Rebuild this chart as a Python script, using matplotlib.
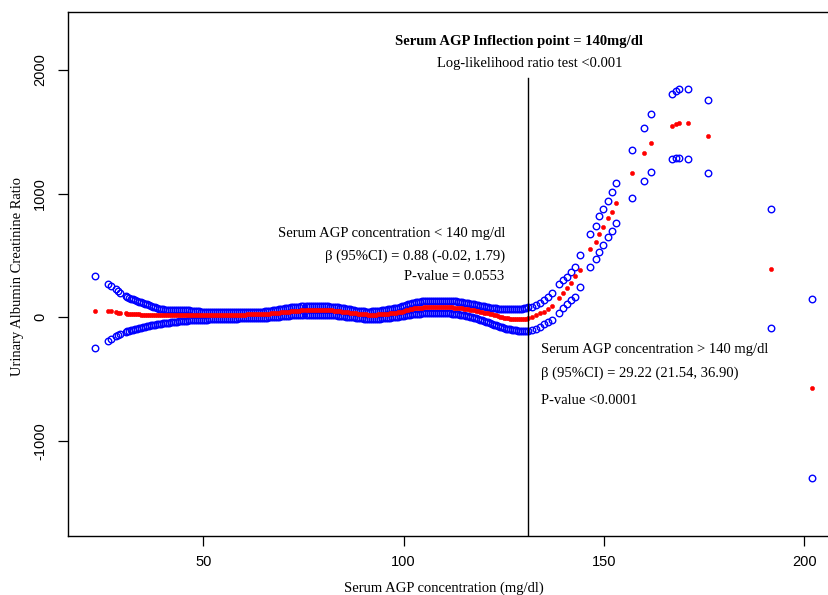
import matplotlib
matplotlib.use("Agg")
import matplotlib.pyplot as plt
import numpy as np

plt.rcParams["axes.unicode_minus"] = False

# serum AGP values (mg/dl) where the smoothed fit was evaluated
agp = [23.0, 26.1, 27.0, 28.2, 28.7, 29.2, 30.8,
       31.0, 31.5, 32.0, 32.5, 33.0, 33.5, 34.0, 34.5, 35.0, 35.5, 36.0, 36.5, 37.0, 37.5, 38.0, 38.5, 39.0, 39.5, 40.0, 40.5,
       41.0, 41.5, 42.0, 42.5, 43.0, 43.5, 44.0, 44.5, 45.0, 45.5, 46.0, 46.5, 47.0, 47.5, 48.0, 48.5, 49.0, 49.5, 50.0, 50.5,
       51.0, 51.5, 52.0, 52.5, 53.0, 53.5, 54.0, 54.5, 55.0, 55.5, 56.0, 56.5, 57.0, 57.5, 58.0, 58.5, 59.0, 59.5, 60.0, 60.5,
       61.0, 61.5, 62.0, 62.5, 63.0, 63.5, 64.0, 64.5, 65.0, 65.5, 66.0, 66.5, 67.0, 67.5, 68.0, 68.5, 69.0, 69.5, 70.0, 70.5,
       71.0, 71.5, 72.0, 72.5, 73.0, 73.5, 74.0, 74.5, 75.0, 75.5, 76.0, 76.5, 77.0, 77.5, 78.0, 78.5, 79.0, 79.5, 80.0, 80.5,
       81.0, 81.5, 82.0, 82.5, 83.0, 83.5, 84.0, 84.5, 85.0, 85.5, 86.0, 86.5, 87.0, 87.5, 88.0, 88.5, 89.0, 89.5, 90.0, 90.5,
       91.0, 91.5, 92.0, 92.5, 93.0, 93.5, 94.0, 94.5, 95.0, 95.5, 96.0, 96.5, 97.0, 97.5, 98.0, 98.5, 99.0, 99.5, 100.0, 100.5,
       101.0, 101.5, 102.0, 102.5, 103.0, 103.5, 104.0, 104.5, 105.0, 105.5, 106.0, 106.5, 107.0, 107.5, 108.0, 108.5, 109.0, 109.5, 110.0, 110.5,
       111.0, 111.5, 112.0, 112.5, 113.0, 113.5, 114.0, 114.5, 115.0, 115.5, 116.0, 116.5, 117.0, 117.5, 118.0, 118.5, 119.0, 119.5, 120.0, 120.5,
       121.0, 121.5, 122.0, 122.5, 123.0, 123.5, 124.0, 124.5, 125.0, 125.5, 126.0, 126.5, 127.0, 127.5, 128.0, 128.5, 129.0, 129.5, 130.0, 130.5,
       131.0,
       132.0, 133.0, 134.0, 135.0, 136.0, 137.0, 138.7, 139.7, 140.8, 141.8, 142.7, 143.9, 146.6, 147.9, 148.8, 149.7,
       150.9, 151.9, 153.0, 156.9, 159.9, 161.7, 166.9, 167.9, 168.8, 171.0, 175.9, 191.7, 201.8]

upper = [336, 269, 253, 226, 212, 198, 172,
         165, 157, 150, 144, 138, 132, 127, 121, 115, 110, 104, 98, 92, 86, 80, 75, 70, 67, 64, 62,
         61, 60, 60, 59, 59, 58, 58, 57, 57, 56, 56, 55, 54, 52, 50, 48, 47, 46, 46, 45,
         45, 44, 44, 44, 43, 43, 43, 42, 42, 42, 42, 41, 41, 41, 40, 40, 40, 40, 40, 40,
         40, 40, 40, 41, 41, 42, 43, 44, 45, 47, 48, 51, 53, 56, 58, 62, 65, 68, 70, 73,
         75, 78, 80, 82, 84, 85, 86, 87, 87, 88, 88, 88, 88, 88, 88, 88, 88, 88, 88, 87,
         87, 86, 86, 84, 82, 80, 77, 75, 72, 70, 67, 63, 60, 57, 54, 52, 50, 48, 47, 46,
         46, 46, 47, 48, 50, 52, 54, 56, 58, 60, 63, 65, 68, 71, 74, 78, 82, 87, 92, 99,
         105, 110, 115, 119, 122, 125, 127, 129, 130, 131, 132, 132, 132, 132, 132, 132, 132, 132, 132, 132,
         132, 131, 131, 130, 129, 127, 124, 122, 119, 117, 114, 111, 108, 104, 100, 97, 93, 90, 87, 84,
         81, 78, 76, 74, 72, 70, 68, 66, 65, 64, 64, 64, 64, 64, 65, 66, 67, 69, 72, 76,
         80,
         85, 100, 118, 140, 167, 199, 267, 302, 328, 369, 404, 504, 673, 738, 819, 873,
         943, 1015, 1083, 1352, 1528, 1641, 1805, 1832, 1848, 1848, 1757, 873, 148]

fit = [53, 48, 47, 41, 38, 36, 31,
       29, 28, 27, 26, 25, 24, 23, 22, 21, 20, 19, 19, 18, 18, 18, 17, 17, 17, 17, 17,
       17, 17, 17, 17, 17, 17, 17, 17, 17, 17, 17, 17, 17, 17, 17, 18, 18, 18, 18, 18,
       18, 18, 19, 19, 19, 19, 20, 20, 20, 20, 20, 21, 21, 21, 21, 22, 22, 22, 22, 22,
       23, 23, 24, 24, 25, 25, 26, 26, 27, 28, 29, 30, 32, 33, 35, 37, 38, 40, 42, 43,
       45, 46, 48, 50, 51, 52, 54, 55, 56, 56, 57, 57, 58, 58, 58, 58, 58, 58, 58, 58,
       57, 56, 55, 54, 52, 50, 48, 46, 44, 42, 40, 37, 35, 33, 31, 29, 27, 25, 24, 23,
       22, 21, 21, 21, 22, 23, 24, 25, 26, 28, 30, 32, 34, 36, 38, 40, 43, 46, 50, 56,
       60, 64, 68, 71, 74, 76, 77, 78, 79, 80, 80, 80, 80, 80, 80, 80, 80, 80, 80, 80,
       80, 79, 79, 78, 77, 75, 73, 71, 69, 67, 64, 61, 58, 55, 52, 49, 46, 42, 38, 35,
       31, 27, 23, 19, 15, 10, 5, 1, -3, -6, -9, -11, -13, -14, -15, -16, -16, -16, -15, -13,
       -10,
       2, 17, 32, 45, 67, 94, 158, 199, 234, 280, 334, 382, 550, 611, 673, 733,
       800, 854, 922, 1166, 1328, 1407, 1549, 1563, 1573, 1573, 1463, 390, -569]

lower = [-246, -189, -175, -155, -145, -135, -116,
         -112, -108, -104, -100, -96, -92, -89, -85, -80, -76, -72, -68, -65, -62, -59, -56, -53, -51, -49, -47,
         -45, -43, -41, -39, -37, -35, -33, -31, -30, -28, -27, -26, -25, -24, -23, -22, -21, -20, -20, -19,
         -19, -18, -18, -17, -16, -16, -15, -15, -14, -14, -13, -13, -12, -12, -11, -11, -10, -10, -9, -9,
         -8, -8, -8, -8, -7, -7, -6, -6, -5, -4, -3, -2, 0, 2, 3, 5, 6, 8, 9, 11,
         12, 14, 15, 16, 17, 18, 19, 20, 20, 21, 21, 21, 21, 21, 21, 21, 21, 21, 21, 21,
         20, 19, 18, 17, 15, 14, 12, 10, 8, 6, 4, 2, 0, -2, -4, -6, -8, -10, -11, -12,
         -13, -14, -14, -14, -13, -12, -11, -10, -8, -7, -5, -3, -1, 1, 3, 5, 7, 10, 12, 15,
         18, 21, 23, 25, 27, 29, 30, 31, 31, 32, 32, 32, 32, 32, 32, 32, 32, 32, 32, 32,
         32, 31, 30, 28, 26, 24, 21, 18, 15, 12, 8, 4, 0, -4, -9, -14, -19, -24, -30, -36,
         -42, -48, -54, -60, -66, -72, -77, -82, -87, -91, -95, -99, -102, -104, -106, -108, -109, -110, -110, -109,
         -108,
         -104, -97, -76, -57, -40, -22, 37, 73, 108, 140, 167, 247, 409, 469, 530, 584,
         652, 700, 760, 962, 1104, 1172, 1280, 1288, 1288, 1280, 1164, -89, -1297]

inflection = 131.1
x_ticks = [50, 100, 150, 200]
y_ticks = [-1000, 0, 1000, 2000]

serif = "Liberation Serif"
fs = 10.5

fig = plt.figure(figsize=(8.29, 5.95), dpi=100)
ax = fig.add_axes([0.0817, 0.0992, 0.9316, 0.8812])

ax.plot(agp, upper, linestyle="none", marker="o", ms=4.7, mfc="none", mec="blue", mew=1.0)
ax.plot(agp, lower, linestyle="none", marker="o", ms=4.7, mfc="none", mec="blue", mew=1.0)
ax.plot(agp, fit, linestyle="none", marker="o", ms=3.0, mfc="red", mec="red", mew=0.4)

ax.plot([inflection, inflection], [-1800, 1932], color="black", lw=1.0)

ax.set_xlim(16.16, 208.9)
ax.set_ylim(-1768, 2470)
ax.set_xticks(x_ticks)
ax.set_yticks(y_ticks)
ax.tick_params(direction="out", length=7, width=0.9, labelsize=fs)
ax.tick_params(axis="x", pad=7)
ax.tick_params(axis="y", pad=8, labelrotation=90)
for lab in ax.get_xticklabels() + ax.get_yticklabels():
    lab.set_fontfamily("Liberation Sans")
for lab in ax.get_yticklabels():
    lab.set_va("center")
for sp in ax.spines.values():
    sp.set_linewidth(1.0)

ax.text(128.8, 2228, "Serum AGP Inflection point = 140mg/dl", ha="center", va="center",
        fontsize=fs, fontweight="bold", family=serif)
ax.text(131.4, 2053, "Log-likelihood ratio test <0.001", ha="center", va="center",
        fontsize=fs, family=serif)

ax.text(125.3, 679, "Serum AGP concentration < 140 mg/dl", ha="right", va="center", fontsize=fs, family=serif)
ax.text(125.3, 490, "β (95%CI) = 0.88 (-0.02, 1.79)", ha="right", va="center", fontsize=fs, family=serif)
ax.text(125.0, 328, "P-value = 0.0553", ha="right", va="center", fontsize=fs, family=serif)

ax.text(134.2, -264, "Serum AGP concentration > 140 mg/dl", ha="left", va="center", fontsize=fs, family=serif)
ax.text(134.2, -453, "β (95%CI) = 29.22 (21.54, 36.90)", ha="left", va="center", fontsize=fs, family=serif)
ax.text(134.2, -669, "P-value <0.0001", ha="left", va="center", fontsize=fs, family=serif)

fig.text(443.5 / 829, 1 - 588 / 595, "Serum AGP concentration (mg/dl)", ha="center", va="center",
         fontsize=fs, family=serif)
fig.text(18 / 829, 1 - 277 / 595, "Urinary Albumin Creatinine Ratio", ha="center", va="center",
         rotation=90, fontsize=fs, family=serif)

fig.savefig("out.png", dpi=100)
